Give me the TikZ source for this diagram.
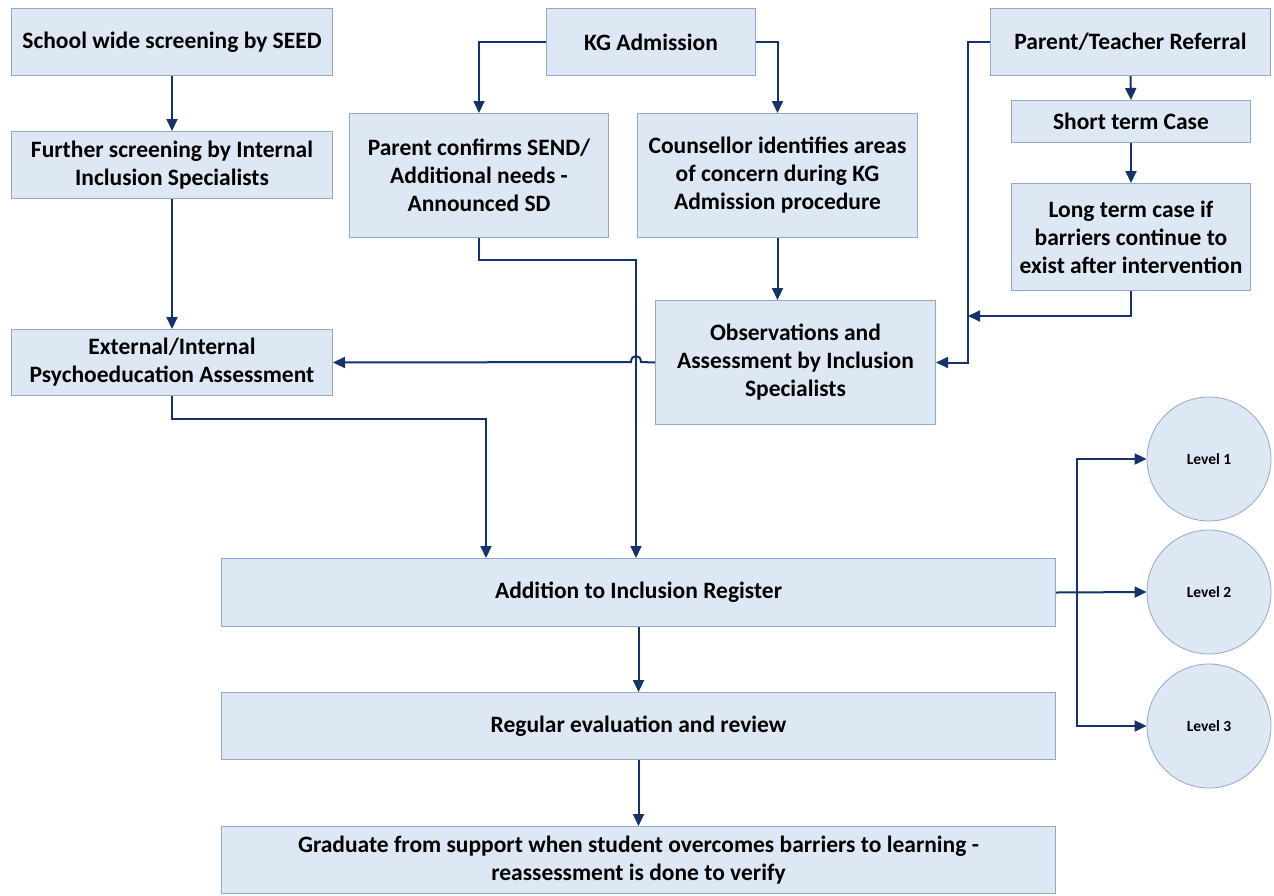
\documentclass[tikz,border=0pt]{standalone}
\usepackage{fontspec}
\setmainfont{Carlito}
\usetikzlibrary{arrows.meta}
\definecolor{boxfill}{HTML}{DEE8F4}
\definecolor{boxline}{HTML}{8FA8CC}
\definecolor{conn}{HTML}{14336B}
\tikzset{
  box/.style={draw=boxline, line width=1pt, fill=boxfill, anchor=north west, align=center,
    inner sep=2pt, font=\fontsize{23.5}{28}\selectfont\bfseries},
  lvl/.style={circle, draw=boxline, line width=0.8pt, fill=boxfill, minimum size=124pt,
    inner sep=0pt, font=\fontsize{15.5}{18}\selectfont\bfseries},
  arr/.style={draw=conn, line width=2pt, -{Triangle[length=12pt,width=11pt]}},
}
\begin{document}
\begin{tikzpicture}[x=1pt,y=-1pt]
\useasboundingbox (0,0) rectangle (1274,895);
% boxes
\node[box, minimum width=321pt, minimum height=67pt] (sw) at (11,8) {School wide screening by SEED};
\node[box, minimum width=321pt, minimum height=67pt] (fs) at (11,131) {Further screening by Internal\\Inclusion Specialists};
\node[box, minimum width=321pt, minimum height=66pt] (ext) at (11,329) {External/Internal\\Psychoeducation Assessment};
\node[box, minimum width=209pt, minimum height=67pt] (kg) at (546,8) {KG Admission};
\node[box, minimum width=259pt, minimum height=124pt] (pc) at (349,113) {Parent confirms SEND/\\Additional needs -\\Announced SD};
\node[box, minimum width=280pt, minimum height=124pt] (co) at (637,113) {Counsellor identifies areas\\of concern during KG\\Admission procedure};
\node[box, minimum width=280pt, minimum height=124pt] (obs) at (655,300) {Observations and\\Assessment by Inclusion\\Specialists};
\node[box, minimum width=280pt, minimum height=67pt] (ptr) at (990,8) {Parent/Teacher Referral};
\node[box, minimum width=239pt, minimum height=42pt] (st) at (1011,100) {Short term Case};
\node[box, minimum width=239pt, minimum height=107pt] (lt) at (1011,183) {Long term case if\\barriers continue to\\exist after intervention};
\node[box, minimum width=834pt, minimum height=68pt] (add) at (221,558) {Addition to Inclusion Register};
\node[box, minimum width=834pt, minimum height=67pt] (reg) at (221,692) {Regular evaluation and review};
\node[box, minimum width=834pt, minimum height=67pt] (grad) at (221,826) {Graduate from support when student overcomes barriers to learning -\\reassessment is done to verify};
\node[lvl] (l1) at (1209,459) {Level 1};
\node[lvl] (l2) at (1209,592) {Level 2};
\node[lvl] (l3) at (1209,726) {Level 3};
% helper coordinates
\coordinate (addA) at (636,558);
\coordinate (addB) at (486,558);
\coordinate (join) at (968,316);
\coordinate (split) at (1077,592);
\coordinate (hopR) at (641,362);
\coordinate (hopL) at (631,362);
% connectors
\draw[arr] (sw.south) -- (fs.north);
\draw[arr] (fs.south) -- (ext.north);
\draw[arr] (kg.west) -| (pc.north);
\draw[arr] (kg.east) -| (co.north);
\draw[arr] (co.south) -- (co.south |- obs.north);
\draw[arr] (ptr.west) -- ++(-22,0) |- (obs.east);
\draw[arr] (ptr.south) -- (st.north);
\draw[arr] (st.south) -- (lt.north);
\draw[arr] (lt.south) |- (join);
\draw[arr] (pc.south) -- ++(0,22) -| (addA);
\draw[arr] (obs.west) -- (hopR) .. controls (641,354) and (631,354) .. (hopL) -- (ext.east);
\draw[arr] (ext.south) -- ++(0,23) -| (addB);
\draw[arr] (add.south) -- (reg.north);
\draw[arr] (reg.south) -- (grad.north);
\draw[arr] (add.east) -- (l2.west);
\draw[arr] (split) |- (l1.west);
\draw[arr] (split) |- (l3.west);
\end{tikzpicture}
\end{document}
